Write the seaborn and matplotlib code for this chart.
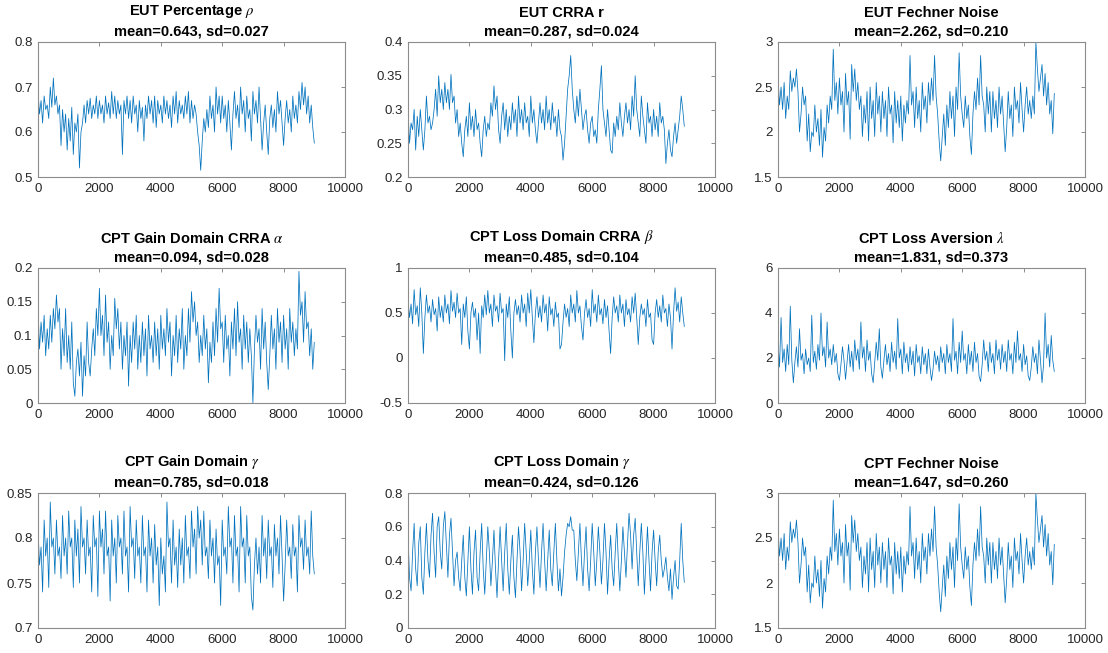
import numpy as np
import pandas as pd
import matplotlib
matplotlib.use("Agg")
import matplotlib.pyplot as plt
import seaborn as sns

# MCMC traces, one stored sample every STEP iterations
STEP = 50

eut_rho = [0.69, 0.64, 0.67, 0.62, 0.68, 0.65, 0.66, 0.63, 0.70, 0.655,
           0.72, 0.66, 0.68, 0.64, 0.66, 0.57, 0.65, 0.60, 0.64, 0.56,
           0.63, 0.58, 0.655, 0.55, 0.62, 0.60, 0.64, 0.52, 0.60, 0.62,
           0.66, 0.62, 0.67, 0.64, 0.675, 0.63, 0.66, 0.64, 0.68, 0.63,
           0.67, 0.64, 0.66, 0.62, 0.68, 0.64, 0.665, 0.63, 0.69, 0.64,
           0.68, 0.63, 0.67, 0.64, 0.66, 0.55, 0.67, 0.64, 0.68, 0.63,
           0.67, 0.62, 0.68, 0.64, 0.66, 0.60, 0.67, 0.63, 0.655, 0.58,
           0.66, 0.63, 0.68, 0.64, 0.67, 0.62, 0.68, 0.61, 0.67, 0.64,
           0.66, 0.62, 0.68, 0.64, 0.67, 0.63, 0.66, 0.61, 0.68, 0.64,
           0.69, 0.62, 0.67, 0.64, 0.66, 0.63, 0.68, 0.64, 0.69, 0.62,
           0.67, 0.63, 0.66, 0.64, 0.60, 0.57, 0.515, 0.58, 0.63, 0.60,
           0.65, 0.61, 0.68, 0.63, 0.66, 0.60, 0.70, 0.64, 0.68, 0.62,
           0.68, 0.63, 0.66, 0.60, 0.67, 0.62, 0.56, 0.64, 0.69, 0.63,
           0.66, 0.61, 0.70, 0.64, 0.67, 0.60, 0.68, 0.63, 0.65, 0.58,
           0.69, 0.64, 0.67, 0.62, 0.70, 0.63, 0.56, 0.62, 0.66, 0.60,
           0.55, 0.63, 0.66, 0.61, 0.65, 0.60, 0.69, 0.64, 0.67, 0.62,
           0.57, 0.63, 0.67, 0.62, 0.65, 0.60, 0.68, 0.63, 0.66, 0.62,
           0.69, 0.65, 0.71, 0.66, 0.70, 0.64, 0.68, 0.62, 0.66, 0.61,
           0.575]

eut_r = [0.30, 0.25, 0.28, 0.27, 0.30, 0.24, 0.29, 0.26, 0.30, 0.27,
         0.24, 0.27, 0.32, 0.28, 0.29, 0.27, 0.28, 0.30, 0.33, 0.29,
         0.35, 0.31, 0.33, 0.30, 0.34, 0.31, 0.33, 0.30, 0.352, 0.31,
         0.32, 0.28, 0.30, 0.26, 0.28, 0.25, 0.23, 0.27, 0.29, 0.26,
         0.31, 0.27, 0.29, 0.26, 0.30, 0.27, 0.28, 0.25, 0.23, 0.27,
         0.29, 0.26, 0.28, 0.27, 0.31, 0.29, 0.335, 0.30, 0.32, 0.27,
         0.25, 0.29, 0.31, 0.27, 0.30, 0.26, 0.29, 0.27, 0.31, 0.28,
         0.30, 0.26, 0.32, 0.28, 0.30, 0.27, 0.31, 0.28, 0.29, 0.26,
         0.32, 0.28, 0.30, 0.27, 0.25, 0.28, 0.31, 0.28, 0.30, 0.27,
         0.32, 0.28, 0.30, 0.27, 0.31, 0.28, 0.29, 0.26, 0.30, 0.27,
         0.26, 0.225, 0.25, 0.29, 0.33, 0.35, 0.38, 0.33, 0.30, 0.28,
         0.32, 0.29, 0.33, 0.30, 0.27, 0.29, 0.30, 0.27, 0.25, 0.28,
         0.29, 0.26, 0.27, 0.25, 0.30, 0.33, 0.365, 0.30, 0.28, 0.26,
         0.30, 0.27, 0.24, 0.235, 0.28, 0.26, 0.29, 0.27, 0.31, 0.28,
         0.26, 0.29, 0.31, 0.28, 0.30, 0.27, 0.32, 0.29, 0.35, 0.30,
         0.28, 0.26, 0.32, 0.29, 0.27, 0.25, 0.31, 0.28, 0.29, 0.26,
         0.30, 0.27, 0.29, 0.26, 0.31, 0.28, 0.29, 0.27, 0.22, 0.25,
         0.27, 0.24, 0.23, 0.26, 0.28, 0.25, 0.27, 0.29, 0.32, 0.30,
         0.275]

eut_fechner = [2.62, 2.30, 2.50, 2.25, 2.55, 2.15, 2.40, 2.25, 2.68, 2.45,
               2.60, 2.50, 2.70, 2.45, 2.00, 2.20, 2.50, 2.30, 2.40, 1.90,
               2.20, 1.78, 2.00, 1.95, 2.30, 2.00, 2.15, 1.85, 2.25, 1.72,
               2.05, 1.90, 2.30, 2.10, 2.40, 2.25, 2.92, 2.35, 2.55, 2.20,
               2.60, 2.30, 2.45, 2.00, 2.65, 2.30, 2.45, 1.92, 2.75, 2.45,
               2.70, 2.35, 2.55, 2.25, 2.40, 1.95, 2.30, 2.10, 2.45, 1.90,
               2.50, 2.15, 2.35, 1.95, 2.55, 2.20, 2.40, 2.00, 2.45, 2.15,
               2.35, 1.95, 2.50, 2.20, 2.30, 1.88, 2.45, 2.10, 2.35, 2.05,
               2.40, 1.90, 2.30, 2.10, 2.35, 2.20, 2.85, 2.30, 2.45, 2.05,
               2.50, 2.15, 2.35, 2.00, 2.55, 2.25, 2.40, 2.10, 2.55, 2.30,
               2.60, 2.35, 2.85, 2.40, 2.20, 1.90, 1.68, 1.95, 2.20, 1.85,
               2.30, 2.05, 2.45, 2.15, 2.40, 1.95, 2.50, 2.25, 2.88, 2.40,
               2.20, 2.05, 2.40, 2.15, 2.30, 1.95, 1.75, 2.20, 2.45, 2.25,
               2.60, 2.30, 2.85, 2.40, 2.30, 2.00, 2.50, 2.20, 2.45, 2.00,
               2.45, 2.15, 2.35, 2.05, 2.50, 2.20, 2.40, 2.10, 1.78, 2.05,
               2.45, 2.15, 2.30, 1.95, 2.50, 2.25, 2.35, 2.10, 2.55, 2.25,
               2.00, 2.30, 2.50, 2.20, 2.35, 2.15, 2.40, 2.20, 3.00, 2.70,
               2.45, 2.60, 2.75, 2.40, 2.65, 2.30, 2.55, 2.20, 2.35, 1.98,
               2.43]

cpt_alpha = [0.14, 0.08, 0.12, 0.09, 0.13, 0.07, 0.11, 0.08, 0.13, 0.09,
             0.14, 0.11, 0.16, 0.12, 0.14, 0.05, 0.11, 0.07, 0.14, 0.06,
             0.10, 0.05, 0.12, 0.03, 0.01, 0.06, 0.08, 0.04, 0.09, 0.01,
             0.07, 0.04, 0.12, 0.06, 0.04, 0.08, 0.11, 0.07, 0.14, 0.10,
             0.17, 0.10, 0.13, 0.07, 0.16, 0.09, 0.12, 0.05, 0.10, 0.07,
             0.155, 0.11, 0.14, 0.08, 0.12, 0.05, 0.10, 0.07, 0.12, 0.025,
             0.10, 0.06, 0.12, 0.08, 0.13, 0.05, 0.10, 0.06, 0.12, 0.07,
             0.11, 0.04, 0.13, 0.08, 0.10, 0.06, 0.12, 0.07, 0.11, 0.05,
             0.13, 0.08, 0.11, 0.07, 0.14, 0.09, 0.12, 0.04, 0.10, 0.07,
             0.13, 0.06, 0.11, 0.08, 0.14, 0.05, 0.10, 0.07, 0.14, 0.09,
             0.165, 0.12, 0.15, 0.10, 0.12, 0.06, 0.10, 0.07, 0.13, 0.08,
             0.11, 0.03, 0.09, 0.06, 0.12, 0.07, 0.14, 0.09, 0.17, 0.11,
             0.12, 0.06, 0.13, 0.08, 0.10, 0.04, 0.12, 0.08, 0.14, 0.07,
             0.15, 0.09, 0.11, 0.05, 0.13, 0.08, 0.12, 0.06, 0.11, 0.07,
             0.00, 0.08, 0.13, 0.09, 0.11, 0.05, 0.14, 0.08, 0.12, 0.06,
             0.02, 0.07, 0.13, 0.08, 0.11, 0.05, 0.14, 0.09, 0.12, 0.06,
             0.13, 0.08, 0.11, 0.05, 0.14, 0.09, 0.12, 0.07, 0.11, 0.08,
             0.195, 0.13, 0.15, 0.09, 0.165, 0.11, 0.12, 0.07, 0.11, 0.05,
             0.09]

cpt_beta = [0.65, 0.45, 0.60, 0.38, 0.76, 0.48, 0.58, 0.35, 0.78, 0.50,
            0.05, 0.45, 0.70, 0.50, 0.58, 0.40, 0.65, 0.48, 0.55, 0.30,
            0.68, 0.45, 0.58, 0.40, 0.70, 0.50, 0.60, 0.38, 0.75, 0.52,
            0.62, 0.45, 0.72, 0.50, 0.55, 0.15, 0.60, 0.45, 0.68, 0.30,
            0.10, 0.50, 0.62, 0.45, 0.55, 0.20, 0.50, 0.05, 0.58, 0.45,
            0.70, 0.48, 0.75, 0.50, 0.60, 0.35, 0.70, 0.52, 0.58, 0.40,
            0.72, 0.50, 0.55, -0.03, 0.60, 0.45, 0.68, 0.30, 0.00, 0.50,
            0.65, 0.48, 0.58, 0.40, 0.70, 0.50, 0.60, 0.35, 0.72, 0.50,
            0.76, 0.45, 0.17, 0.50, 0.68, 0.45, 0.58, 0.40, 0.70, 0.50,
            0.60, 0.30, 0.68, 0.48, 0.55, 0.35, 0.62, 0.45, 0.50, 0.10,
            0.15, 0.40, 0.60, 0.45, 0.55, 0.35, 0.70, 0.50, 0.60, 0.40,
            0.75, 0.50, 0.58, 0.35, 0.20, 0.50, 0.65, 0.45, 0.55, 0.35,
            0.76, 0.50, 0.60, 0.40, 0.70, 0.48, 0.55, 0.38, 0.65, 0.45,
            0.58, 0.30, 0.05, 0.45, 0.68, 0.50, 0.58, 0.40, 0.70, 0.50,
            0.60, 0.35, 0.65, 0.48, 0.55, 0.40, 0.68, 0.50, 0.72, 0.45,
            0.15, 0.45, 0.60, 0.48, 0.55, 0.35, 0.65, 0.45, 0.50, 0.20,
            0.15, 0.50, 0.65, 0.45, 0.58, 0.40, 0.70, 0.50, 0.55, 0.35,
            0.60, 0.45, 0.10, 0.50, 0.78, 0.52, 0.62, 0.40, 0.68, 0.50,
            0.35]

cpt_lambda = [2.7, 1.6, 3.8, 1.8, 2.4, 1.4, 2.6, 1.7, 4.3, 1.9,
              0.9, 1.8, 2.5, 1.6, 3.3, 1.9, 2.2, 1.3, 2.4, 1.7,
              2.0, 1.4, 3.9, 1.8, 2.3, 1.5, 2.6, 1.9, 4.0, 2.1,
              2.5, 1.6, 3.6, 2.0, 2.4, 1.7, 2.6, 1.8, 2.2, 1.3,
              1.0, 1.7, 2.5, 1.9, 1.05, 1.8, 2.6, 1.6, 2.3, 1.4,
              2.8, 1.9, 2.4, 1.5, 3.6, 2.0, 2.5, 1.4, 2.8, 1.9,
              2.3, 1.3, 0.9, 1.8, 2.7, 1.9, 3.3, 1.6, 1.1, 1.9,
              2.6, 1.7, 2.2, 1.4, 2.7, 1.8, 2.3, 1.5, 3.75, 2.0,
              2.4, 1.3, 2.7, 1.8, 2.2, 1.4, 2.5, 1.7, 2.3, 1.2,
              2.6, 1.8, 2.1, 1.3, 2.5, 1.7, 2.2, 1.3, 2.4, 1.6,
              1.0, 1.5, 2.3, 1.7, 2.1, 1.4, 2.5, 1.8, 2.2, 1.3,
              2.6, 1.8, 2.2, 1.4, 3.75, 1.9, 2.3, 1.3, 2.7, 1.8,
              3.2, 1.9, 2.2, 1.3, 2.6, 1.7, 2.3, 1.4, 2.7, 1.8,
              2.2, 1.2, 0.95, 1.7, 2.8, 1.9, 2.3, 1.4, 2.7, 1.8,
              2.2, 1.3, 2.8, 1.9, 2.4, 1.5, 2.6, 1.8, 2.3, 1.4,
              2.8, 1.9, 2.2, 1.3, 2.7, 1.8, 3.2, 1.9, 2.2, 1.4,
              2.6, 1.7, 2.1, 1.2, 1.0, 1.6, 2.5, 1.8, 2.2, 1.3,
              2.8, 1.9, 0.9, 1.7, 4.0, 2.0, 2.6, 1.6, 3.0, 1.9,
              1.4]

cpt_gain_gamma = [0.81, 0.77, 0.79, 0.74, 0.82, 0.78, 0.80, 0.745, 0.84, 0.79,
                  0.80, 0.76, 0.82, 0.78, 0.79, 0.755, 0.825, 0.78, 0.80, 0.76,
                  0.83, 0.79, 0.80, 0.745, 0.82, 0.78, 0.81, 0.75, 0.835, 0.79,
                  0.80, 0.76, 0.82, 0.78, 0.79, 0.74, 0.825, 0.79, 0.80, 0.735,
                  0.83, 0.79, 0.81, 0.76, 0.83, 0.78, 0.79, 0.73, 0.82, 0.78,
                  0.80, 0.75, 0.825, 0.79, 0.80, 0.76, 0.83, 0.78, 0.79, 0.74,
                  0.835, 0.79, 0.80, 0.755, 0.82, 0.78, 0.79, 0.75, 0.825, 0.78,
                  0.79, 0.74, 0.82, 0.78, 0.80, 0.75, 0.815, 0.77, 0.79, 0.725,
                  0.80, 0.76, 0.78, 0.74, 0.84, 0.79, 0.80, 0.75, 0.82, 0.77,
                  0.79, 0.745, 0.81, 0.77, 0.80, 0.75, 0.825, 0.78, 0.79, 0.755,
                  0.83, 0.79, 0.81, 0.76, 0.835, 0.80, 0.82, 0.77, 0.83, 0.78,
                  0.79, 0.755, 0.82, 0.78, 0.80, 0.75, 0.81, 0.77, 0.78, 0.725,
                  0.82, 0.78, 0.79, 0.76, 0.835, 0.79, 0.80, 0.75, 0.825, 0.78,
                  0.79, 0.74, 0.835, 0.79, 0.80, 0.75, 0.825, 0.78, 0.79, 0.735,
                  0.72, 0.77, 0.80, 0.76, 0.79, 0.75, 0.825, 0.78, 0.80, 0.755,
                  0.82, 0.78, 0.79, 0.745, 0.815, 0.78, 0.80, 0.76, 0.825, 0.78,
                  0.73, 0.77, 0.82, 0.78, 0.79, 0.755, 0.815, 0.78, 0.79, 0.74,
                  0.825, 0.79, 0.80, 0.765, 0.82, 0.78, 0.79, 0.76, 0.83, 0.78,
                  0.76]

cpt_loss_gamma = [0.55, 0.30, 0.22, 0.45, 0.62, 0.35, 0.25, 0.50, 0.60, 0.30,
                  0.20, 0.45, 0.62, 0.40, 0.30, 0.55, 0.68, 0.45, 0.30, 0.60,
                  0.66, 0.45, 0.35, 0.60, 0.69, 0.50, 0.30, 0.55, 0.65, 0.45,
                  0.25, 0.40, 0.45, 0.30, 0.22, 0.40, 0.55, 0.30, 0.19, 0.40,
                  0.60, 0.35, 0.20, 0.45, 0.58, 0.30, 0.22, 0.45, 0.62, 0.35,
                  0.20, 0.40, 0.60, 0.45, 0.25, 0.40, 0.58, 0.35, 0.18, 0.40,
                  0.60, 0.40, 0.22, 0.45, 0.62, 0.35, 0.20, 0.40, 0.55, 0.30,
                  0.18, 0.40, 0.60, 0.45, 0.22, 0.40, 0.62, 0.45, 0.25, 0.40,
                  0.58, 0.35, 0.20, 0.45, 0.60, 0.40, 0.24, 0.45, 0.62, 0.40,
                  0.22, 0.40, 0.58, 0.35, 0.25, 0.45, 0.62, 0.40, 0.22, 0.35,
                  0.19, 0.30, 0.45, 0.55, 0.62, 0.60, 0.66, 0.58, 0.58, 0.40,
                  0.28, 0.45, 0.62, 0.40, 0.25, 0.45, 0.60, 0.35, 0.22, 0.40,
                  0.62, 0.45, 0.25, 0.40, 0.60, 0.45, 0.26, 0.40, 0.62, 0.45,
                  0.20, 0.40, 0.55, 0.35, 0.25, 0.45, 0.62, 0.40, 0.22, 0.40,
                  0.60, 0.45, 0.30, 0.50, 0.68, 0.55, 0.35, 0.55, 0.65, 0.45,
                  0.25, 0.45, 0.62, 0.45, 0.20, 0.40, 0.60, 0.40, 0.22, 0.45,
                  0.58, 0.40, 0.25, 0.45, 0.55, 0.40, 0.30, 0.35, 0.42, 0.30,
                  0.22, 0.35, 0.17, 0.30, 0.40, 0.25, 0.23, 0.40, 0.62, 0.40,
                  0.27]

cpt_fechner = [2.62, 2.30, 2.50, 2.25, 2.55, 2.15, 2.40, 2.25, 2.68, 2.45,
               2.60, 2.50, 2.70, 2.45, 2.00, 2.20, 2.50, 2.30, 2.40, 1.90,
               2.20, 1.78, 2.00, 1.95, 2.30, 2.00, 2.15, 1.85, 2.25, 1.72,
               2.05, 1.90, 2.30, 2.10, 2.40, 2.25, 2.92, 2.35, 2.55, 2.20,
               2.60, 2.30, 2.45, 2.00, 2.65, 2.30, 2.45, 1.92, 2.75, 2.45,
               2.70, 2.35, 2.55, 2.25, 2.40, 1.95, 2.30, 2.10, 2.45, 1.90,
               2.50, 2.15, 2.35, 1.95, 2.55, 2.20, 2.40, 2.00, 2.45, 2.15,
               2.35, 1.95, 2.50, 2.20, 2.30, 1.88, 2.45, 2.10, 2.35, 2.05,
               2.40, 1.90, 2.30, 2.10, 2.35, 2.20, 2.85, 2.30, 2.45, 2.05,
               2.50, 2.15, 2.35, 2.00, 2.55, 2.25, 2.40, 2.10, 2.55, 2.30,
               2.60, 2.35, 2.85, 2.40, 2.20, 1.90, 1.68, 1.95, 2.20, 1.85,
               2.30, 2.05, 2.45, 2.15, 2.40, 1.95, 2.50, 2.25, 2.88, 2.40,
               2.20, 2.05, 2.40, 2.15, 2.30, 1.95, 1.75, 2.20, 2.45, 2.25,
               2.60, 2.30, 2.85, 2.40, 2.30, 2.00, 2.50, 2.20, 2.45, 2.00,
               2.45, 2.15, 2.35, 2.05, 2.50, 2.20, 2.40, 2.10, 1.78, 2.05,
               2.45, 2.15, 2.30, 1.95, 2.50, 2.25, 2.35, 2.10, 2.55, 2.25,
               2.00, 2.30, 2.50, 2.20, 2.35, 2.15, 2.40, 2.20, 3.00, 2.70,
               2.45, 2.60, 2.75, 2.40, 2.65, 2.30, 2.55, 2.20, 2.35, 1.98,
               2.43]

titles = ["EUT Percentage $\\rho$", "EUT CRRA r", "EUT Fechner Noise",
          "CPT Gain Domain CRRA $\\alpha$", "CPT Loss Domain CRRA $\\beta$",
          "CPT Loss Aversion $\\lambda$",
          "CPT Gain Domain $\\gamma$", "CPT Loss Domain $\\gamma$",
          "CPT Fechner Noise"]
subtitles = ["mean=0.643, sd=0.027", "mean=0.287, sd=0.024", "mean=2.262, sd=0.210",
             "mean=0.094, sd=0.028", "mean=0.485, sd=0.104", "mean=1.831, sd=0.373",
             "mean=0.785, sd=0.018", "mean=0.424, sd=0.126", "mean=1.647, sd=0.260"]
series = [eut_rho, eut_r, eut_fechner, cpt_alpha, cpt_beta, cpt_lambda,
          cpt_gain_gamma, cpt_loss_gamma, cpt_fechner]
y_ticks = [[0.5, 0.6, 0.7, 0.8], [0.2, 0.25, 0.3, 0.35, 0.4], [1.5, 2, 2.5, 3],
           [0, 0.05, 0.1, 0.15, 0.2], [-0.5, 0, 0.5, 1], [0, 2, 4, 6],
           [0.7, 0.75, 0.8, 0.85], [0, 0.2, 0.4, 0.6, 0.8], [1.5, 2, 2.5, 3]]
x_ticks = [0, 2000, 4000, 6000, 8000, 10000]

sns.set_style("white")
plt.rcParams["font.family"] = ["Liberation Sans", "DejaVu Sans"]
plt.rcParams["mathtext.fontset"] = "stix"

W, H = 1108, 653
fig = plt.figure(figsize=(W / 100, H / 100), dpi=100)

col_left = [38, 408, 778]
row_top = [42, 268, 493]
ax_w, ax_h = 307, 135
line_color = "#0072BD"
label_color = "#262626"
box_color = "#8c8c8c"

for k, (title, sub, vals, yt) in enumerate(zip(titles, subtitles, series, y_ticks)):
    r, c = divmod(k, 3)
    ax = fig.add_axes([col_left[c] / W, 1 - (row_top[r] + ax_h) / H, ax_w / W, ax_h / H])
    df = pd.DataFrame({"iteration": np.arange(len(vals)) * STEP, "value": vals})
    sns.lineplot(data=df, x="iteration", y="value", ax=ax, color=line_color,
                 linewidth=0.55, estimator=None)
    ax.set_xlim(0, 10000)
    ax.set_ylim(yt[0], yt[-1])
    ax.set_xticks(x_ticks)
    ax.set_xticklabels([f"{t:g}" for t in x_ticks])
    ax.set_yticks(yt)
    ax.set_yticklabels([f"{t:g}" for t in yt])
    ax.set_xlabel("")
    ax.set_ylabel("")
    ax.tick_params(direction="in", length=3, width=0.7, top=True, right=True,
                   labelsize=9.5, color=box_color, labelcolor=label_color, pad=4)
    for s in ax.spines.values():
        s.set_visible(True)
        s.set_color(box_color)
        s.set_linewidth(0.8)
    ax.set_title(f"{title}\n{sub}", fontsize=10.5, fontweight="bold",
                 color="black", pad=5, linespacing=1.35)

fig.savefig("out.png", dpi=100)
